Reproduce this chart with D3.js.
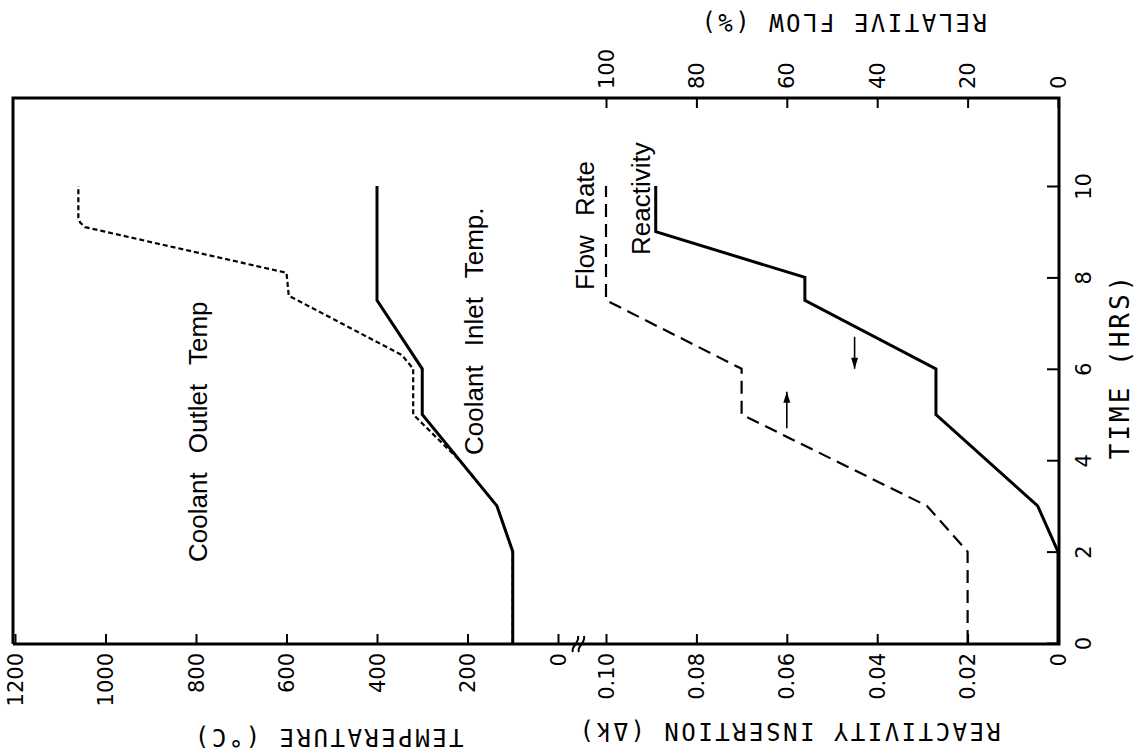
<!DOCTYPE html>
<html><head><meta charset="utf-8">
<script src="https://cdn.jsdelivr.net/npm/d3@7"></script>
<style>body{margin:0;background:#fff} svg{display:block}</style>
</head><body>
<svg id="c" width="1134" height="755"></svg>
<script>
// ---- data (chart is drawn rotated: time runs upward, values run leftward) ----
const timeTicks = [0, 2, 4, 6, 8, 10];
const tempTicks = [0, 200, 400, 600, 800, 1000, 1200];
const reactTicks = [0, 0.02, 0.04, 0.06, 0.08, 0.10];
const reactTickLabels = ["0", "0.02", "0.04", "0.06", "0.08", "0.10"];
const flowTicks = [0, 20, 40, 60, 80, 100];

const inletTime = [0, 2, 3, 5, 6, 7.5, 10];
const inletTemp = [100, 100, 135, 300, 300, 400, 400];

const outletTime = [0, 2, 3, 4, 5, 6, 6.3, 7.6, 8.1, 9.1, 9.2, 9.3, 10];
const outletTemp = [100, 100, 135, 218, 320, 320, 345, 595, 600, 1045, 1056, 1060, 1060];

const reactTime = [0, 2, 3, 5, 6, 7.5, 8, 9, 10];
const reactValue = [0, 0, 0.0045, 0.027, 0.027, 0.056, 0.056, 0.089, 0.089];

const flowTime = [0, 2, 3, 5, 6, 7.5, 10];
const flowValue = [20, 20, 29, 70, 70, 100, 100];

// ---- layout ----
const frame = {left: 13, top: 98, right: 1059, bottom: 644};
const yT = d3.scaleLinear().domain([0, 10]).range([643, 186]);
const xTemp = d3.scaleLinear().domain([0, 1200]).range([558, 15]);
const xReact = d3.scaleLinear().domain([0, 0.10]).range([1058, 606]);
const xFlow = d3.scaleLinear().domain([0, 100]).range([1058, 606]);

const svg = d3.select("#c");
const tickFont = "'DejaVu Sans', sans-serif";
const titleFont = "'DejaVu Sans Mono', monospace";
const noteFont = "'Liberation Sans', Arial, sans-serif";

// frame
svg.append("path")
  .attr("d", `M${frame.left},${frame.bottom}V${frame.top}H${frame.right}V${frame.bottom}H${frame.left}`)
  .attr("fill", "none").attr("stroke", "#000").attr("stroke-width", 3);

function styleAxis(g) {
  g.select(".domain").remove();
  g.selectAll(".tick line").attr("stroke", "#000").attr("stroke-width", 2);
  g.selectAll(".tick text").attr("fill", "#000").attr("font-family", tickFont).attr("font-size", 21)
    .attr("x", null).attr("y", null).attr("dy", null);
}

// bottom: temperature
const gTemp = svg.append("g").attr("transform", `translate(0,${frame.bottom})`)
  .call(d3.axisBottom(xTemp).tickValues(tempTicks).tickSizeInner(-10).tickSizeOuter(0).tickFormat(d3.format("d")));
styleAxis(gTemp);
gTemp.selectAll(".tick text").attr("transform", "translate(0,9) rotate(-90)")
  .attr("text-anchor", "end").attr("dominant-baseline", "central");

// bottom: reactivity
const gReact = svg.append("g").attr("transform", `translate(0,${frame.bottom})`)
  .call(d3.axisBottom(xReact).tickValues(reactTicks).tickSizeInner(-10).tickSizeOuter(0)
    .tickFormat((d, i) => reactTickLabels[i]));
styleAxis(gReact);
gReact.selectAll(".tick text").attr("transform", "translate(0,9) rotate(-90)")
  .attr("text-anchor", "end").attr("dominant-baseline", "central");

// top: relative flow
const gFlow = svg.append("g").attr("transform", `translate(0,${frame.top})`)
  .call(d3.axisTop(xFlow).tickValues(flowTicks).tickSizeInner(-10).tickSizeOuter(0));
styleAxis(gFlow);
gFlow.selectAll(".tick text").attr("transform", "translate(0,-9) rotate(-90)")
  .attr("text-anchor", "start").attr("dominant-baseline", "central");

// right: time
const gTime = svg.append("g").attr("transform", `translate(${frame.right},0)`)
  .call(d3.axisRight(yT).tickValues(timeTicks).tickSizeInner(-12).tickSizeOuter(0));
styleAxis(gTime);
gTime.selectAll(".tick text").attr("transform", "translate(25,0) rotate(-90)")
  .attr("text-anchor", "middle").attr("dominant-baseline", "central");

// axis break symbol
const bx = 579, by = frame.bottom;
[-3, 3].forEach(o => {
  svg.append("path")
    .attr("d", `M${bx + o - 3},${by + 8} C${bx + o - 6},${by + 3} ${bx + o + 4},${by - 1} ${bx + o + 2},${by - 8}`)
    .attr("fill", "none").attr("stroke", "#000").attr("stroke-width", 2);
});

// ---- series ----
const zip = (a, b) => a.map((t, i) => ({t, v: b[i]}));
svg.append("path").datum(zip(outletTime, outletTemp))
  .attr("d", d3.line().x(d => xTemp(d.v)).y(d => yT(d.t)).curve(d3.curveLinear))
  .attr("fill", "none").attr("stroke", "#000").attr("stroke-width", 2.2).attr("stroke-dasharray", "5,3");
svg.append("path").datum(zip(inletTime, inletTemp))
  .attr("d", d3.line().x(d => xTemp(d.v)).y(d => yT(d.t)))
  .attr("fill", "none").attr("stroke", "#000").attr("stroke-width", 3);
svg.append("path").datum(zip(flowTime, flowValue))
  .attr("d", d3.line().x(d => xFlow(d.v)).y(d => yT(d.t)))
  .attr("fill", "none").attr("stroke", "#000").attr("stroke-width", 2.2).attr("stroke-dasharray", "13,7");
svg.append("path").datum(zip(reactTime, reactValue))
  .attr("d", d3.line().x(d => xReact(d.v)).y(d => yT(d.t)))
  .attr("fill", "none").attr("stroke", "#000").attr("stroke-width", 3);

// arrows
function arrow(x, y1, y2) {
  svg.append("line").attr("x1", x).attr("x2", x).attr("y1", y1).attr("y2", y2)
    .attr("stroke", "#000").attr("stroke-width", 1.6);
  const dir = Math.sign(y2 - y1);
  svg.append("path").attr("d", `M${x},${y2} L${x - 3.5},${y2 - dir * 11} L${x + 3.5},${y2 - dir * 11}Z`).attr("fill", "#000");
}
arrow(xFlow(60), yT(4.7), yT(5.5));
arrow(xReact(0.045), yT(6.7), yT(6.0));

// ---- annotations ----
function note(txt, x, y) {
  svg.append("text").attr("transform", `translate(${x},${y}) rotate(-90)`)
    .attr("font-family", noteFont).attr("font-size", 26).attr("word-spacing", 12)
    .attr("dominant-baseline", "central").attr("text-anchor", "start").text(txt);
}
note("Coolant Outlet Temp", 198, 562);
note("Coolant Inlet Temp.", 474, 455);
note("Flow Rate", 585, 290);
note("Reactivity", 641, 255);

// ---- axis titles ----
function title(txt, x, y, rot, size, ls) {
  svg.append("text").attr("transform", `translate(${x},${y}) rotate(${rot})`)
    .attr("font-family", titleFont).attr("font-size", size).attr("letter-spacing", ls)
    .attr("text-anchor", "middle").attr("dominant-baseline", "central").text(txt);
}
title("TEMPERATURE  (°C)", 328, 737, 180, 24, 2.5);
title("REACTIVITY  INSERTION  (Δk)", 789, 731, 180, 24, 2.5);
title("RELATIVE  FLOW  (%)", 843, 22, 180, 24, 2.5);
title("TIME  (HRS)", 1120, 366, -90, 26, 3);
</script>
</body></html>
